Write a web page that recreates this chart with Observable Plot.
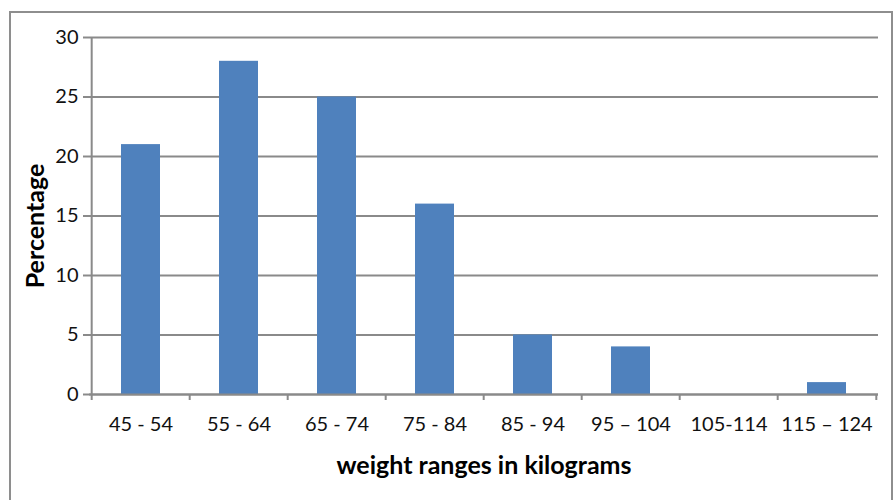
<!DOCTYPE html>
<html>
<head>
<meta charset="utf-8">
<script src="https://cdn.jsdelivr.net/npm/d3@7"></script>
<script src="https://cdn.jsdelivr.net/npm/@observablehq/plot@0.6"></script>
<style>
  html, body { margin: 0; padding: 0; background: #fff; overflow: hidden; }
  #wrap { position: relative; width: 894px; height: 500px; overflow: hidden; }
  #border { position: absolute; left: 9px; top: 11px; width: 880px; height: 520px;
            border: 2px solid #8e8e8e; pointer-events: none; }
</style>
</head>
<body>
<div id="wrap"><div id="chart"></div><div id="border"></div></div>
<script>
const categories = ["45 - 54", "55 - 64", "65 - 74", "75 - 84", "85 - 94", "95 – 104", "105-114", "115 – 124"];
const percentages = [21, 28, 25, 16, 5, 4, 0, 1];
const yTicks = [0, 5, 10, 15, 20, 25, 30];
const xTitle = "weight ranges in kilograms";
const yTitle = "Percentage";

const data = categories.map((c, i) => ({category: c, value: percentages[i]}));

const W = 894, H = 500;
const mL = 89, mR = 16, mT = 37, mB = 106;
const step = (W - mL - mR) / categories.length;
const gray = "#8a8a8a";
const font = "Lato, 'Open Sans', sans-serif";

const chart = Plot.plot({
  width: W,
  height: H,
  marginLeft: mL,
  marginRight: mR,
  marginTop: mT,
  marginBottom: mB,
  style: {fontFamily: font, fontSize: "20px", color: "#111", background: "transparent"},
  x: {domain: categories, paddingInner: 0.6, paddingOuter: 0.3, axis: null},
  y: {domain: [0, 30], axis: null},
  marks: [
    Plot.gridY(yTicks, {stroke: gray, strokeOpacity: 1, strokeWidth: 2}),
    Plot.barY(data, {x: "category", y: "value", fill: "#4F81BD"}),
    Plot.ruleX([categories[0]], {dx: -step / 2, stroke: gray, strokeWidth: 2}),
    Plot.ruleY([0], {stroke: gray, strokeWidth: 2}),
    Plot.axisY(yTicks, {tickSize: 6, tickPadding: 5, stroke: gray, strokeWidth: 2, label: null, fontSize: 20, fill: "#111"}),
    Plot.axisX(categories, {tickSize: 6, dx: -step / 2, tickFormat: () => "", stroke: gray, strokeWidth: 2, label: null}),
    Plot.axisX([categories[categories.length - 1]], {tickSize: 6, dx: step / 2, tickFormat: () => "", stroke: gray, strokeWidth: 2, label: null}),
    Plot.axisX(categories, {tickSize: 0, tickPadding: 22, label: null, fontSize: 20, fill: "#111"}),
    Plot.text([xTitle], {frameAnchor: "bottom", dy: 71, fontSize: 25, fontWeight: "bold", fill: "#000", lineAnchor: "middle"}),
    Plot.text([yTitle], {frameAnchor: "left", dx: -54, dy: 10, rotate: -90, fontSize: 25, fontWeight: "bold", fill: "#000", lineAnchor: "middle", textAnchor: "middle"})
  ]
});
document.getElementById("chart").appendChild(chart);
</script>
</body>
</html>
